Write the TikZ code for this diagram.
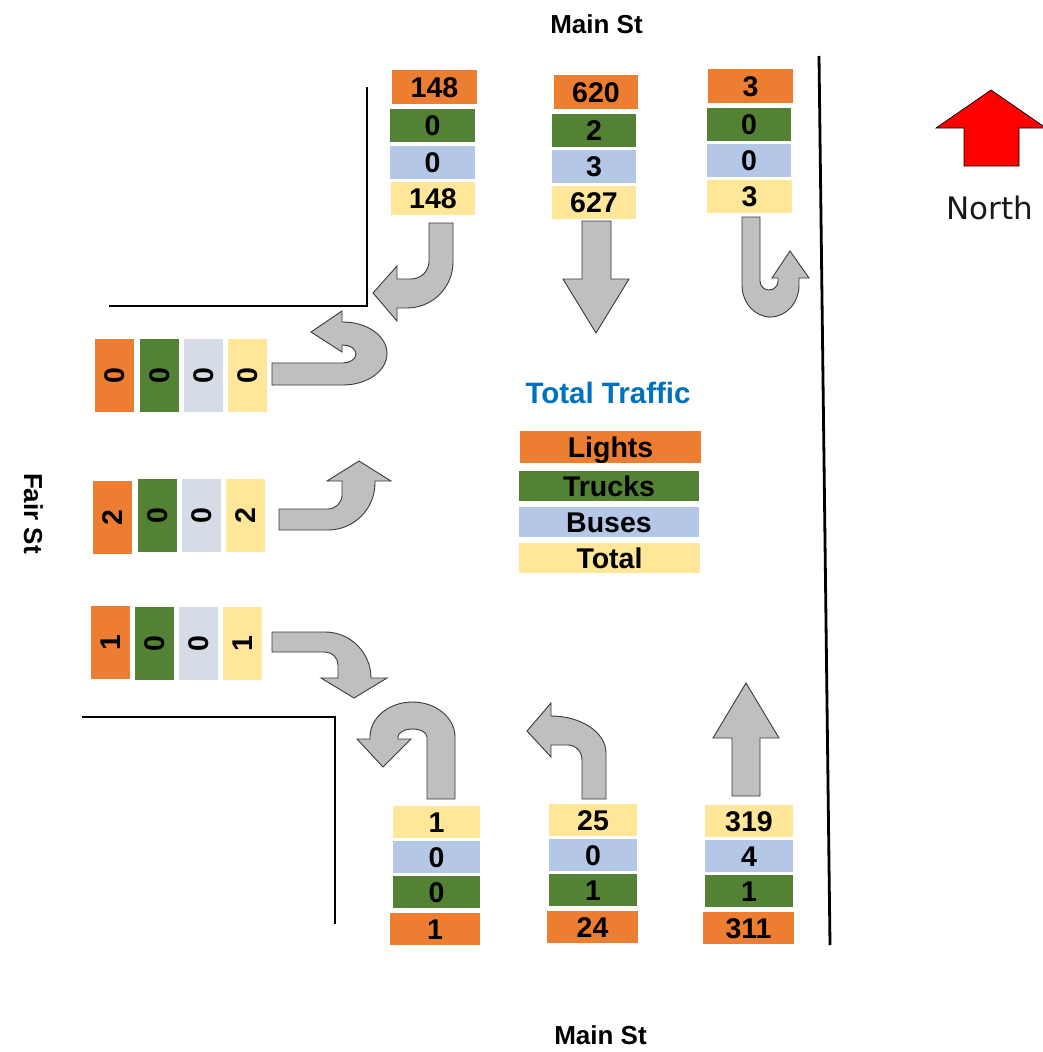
\documentclass[tikz,border=0pt]{standalone}
\usepackage{fontspec}
\setmainfont{Liberation Sans}
\newfontfamily\northfont{DejaVu Sans}
\definecolor{cO}{HTML}{ED7D31}
\definecolor{cG}{HTML}{548235}
\definecolor{cB}{HTML}{B4C7E7}
\definecolor{cBl}{HTML}{D6DCE5}
\definecolor{cY}{HTML}{FFE699}
\definecolor{agray}{HTML}{BFBFBF}
\definecolor{aline}{HTML}{3A3A3A}
\definecolor{ttblue}{HTML}{0070C0}
\newcommand\cellfont{\fontsize{28.5}{30}\selectfont\bfseries}
\newcommand\streetfont{\fontsize{26}{28}\selectfont\bfseries}
\tikzset{
  cell/.style={inner sep=0pt, outer sep=0pt, text height=20.4pt, text depth=0pt, font=\cellfont, text=black},
  turnarrow/.style={fill=agray, draw=aline, line width=0.9pt, line join=miter},
  road/.style={line width=2.8pt, draw=black},
  street/.style={font=\streetfont, inner sep=0pt, text height=19pt, text depth=0pt}
}
\newcommand\mycell[7]{\node[cell, fill=#6, minimum width={(#4)-(#2)}, minimum height={(#5)-(#3)}] (#1) at ({((#2)+(#4))/2},{((#3)+(#5))/2}) {#7};}
\newcommand\myrcell[7]{\node[cell, rotate=90, fill=#6, minimum width={(#5)-(#3)}, minimum height={(#4)-(#2)}] (#1) at ({((#2)+(#4))/2},{((#3)+(#5))/2}) {#7};}
\begin{document}
\begin{tikzpicture}[x=1pt,y=-1pt]
\useasboundingbox (0,0) rectangle (1043,1052);
\fill[white] (0,0) rectangle (1043,1052);

% roads
\draw[road] (367,87) -- (367,306) -- (109,306);
\draw[road] (335,924) -- (335,717) -- (82,717);
\draw[road] (819,56) -- (830,945);

% street names
\node[street] (mainN) at (596.5,23.5) {Main St};
\node[street] (mainS) at (600.5,1034.5) {Main St};
\node[street, rotate=-90] (fair) at (33.5,513.5) {Fair St};

% north arrow
\draw[fill=red, draw=black, line width=0.7pt] (964,166) -- (1019,166) -- (1019,128) -- (1046,128) -- (991,90) -- (936,128) -- (964,128) -- cycle;
\node[font=\northfont\fontsize{31}{33}\selectfont, text=black!90, inner sep=0pt, anchor=base] (north) at (989.5,219) {North};

% title
\node[font=\fontsize{29.5}{31}\selectfont\bfseries, text=ttblue, inner sep=0pt, anchor=base] (title) at (608,403) {Total Traffic};

% top-left column
\mycell{tlL}{392}{70}{477}{104}{cO}{148}
\mycell{tlT}{390}{109}{475}{142}{cG}{0}
\mycell{tlB}{390}{146}{475}{179}{cB}{0}
\mycell{tlS}{391}{182}{475}{215}{cY}{148}
% top-middle column
\mycell{tmL}{554}{75}{638}{109}{cO}{620}
\mycell{tmT}{552}{114}{636}{147}{cG}{2}
\mycell{tmB}{552}{150}{636}{183}{cB}{3}
\mycell{tmS}{552}{186}{636}{219}{cY}{627}
% top-right column
\mycell{trL}{708}{69}{793}{103}{cO}{3}
\mycell{trT}{707}{108}{791}{141}{cG}{0}
\mycell{trB}{707}{144}{791}{177}{cB}{0}
\mycell{trS}{707}{180}{792}{213}{cY}{3}

% left rows
\myrcell{laL}{95}{339}{134}{412}{cO}{0}
\myrcell{laT}{140}{339}{179}{412}{cG}{0}
\myrcell{laB}{184}{339}{223}{412}{cBl}{0}
\myrcell{laS}{228}{339}{267}{412}{cY}{0}
\myrcell{lbL}{93}{481}{132}{554}{cO}{2}
\myrcell{lbT}{138}{479}{177}{552}{cG}{0}
\myrcell{lbB}{182}{479}{221}{552}{cBl}{0}
\myrcell{lbS}{226}{479}{265}{552}{cY}{2}
\myrcell{lcL}{91}{606}{130}{679}{cO}{1}
\myrcell{lcT}{135}{607}{174}{680}{cG}{0}
\myrcell{lcB}{179}{607}{218}{680}{cBl}{0}
\myrcell{lcS}{223}{607}{262}{680}{cY}{1}

% bottom-left column
\mycell{blS}{393}{806}{480}{838}{cY}{1}
\mycell{blB}{393}{841}{480}{873}{cB}{0}
\mycell{blT}{393}{876}{480}{908}{cG}{0}
\mycell{blL}{390}{913}{480}{945}{cO}{1}
% bottom-middle column
\mycell{bmS}{549}{804}{637}{836}{cY}{25}
\mycell{bmB}{549}{839}{637}{871}{cB}{0}
\mycell{bmT}{549}{874}{637}{906}{cG}{1}
\mycell{bmL}{547}{911}{638}{943}{cO}{24}
% bottom-right column
\mycell{brS}{705}{805}{793}{837}{cY}{319}
\mycell{brB}{705}{840}{793}{872}{cB}{4}
\mycell{brT}{705}{875}{793}{907}{cG}{1}
\mycell{brL}{703}{912}{794}{944}{cO}{311}

% legend
\mycell{kL}{520}{431}{701}{463}{cO}{Lights}
\mycell{kT}{519}{471}{699}{501}{cG}{Trucks}
\mycell{kB}{519}{507}{699}{537}{cB}{Buses}
\mycell{kS}{519}{543}{700}{573}{cY}{Total}

% arrows
% top-left: southbound right turn
\draw[turnarrow] (429,223) -- (453,223) -- (453,262)
  .. controls (453,287.4) and (432.4,308) .. (407,308)
  -- (397,308) -- (397,321) -- (373,293) -- (397,266) -- (397,279) -- (411,279)
  .. controls (421,279) and (429,271) .. (429,261) -- cycle;
% top-middle: southbound through
\draw[turnarrow] (582,221) -- (611,221) -- (611,279) -- (629,279) -- (596,333) -- (563,279) -- (582,279) -- cycle;
% top-right: southbound U-turn
\draw[turnarrow] (742,217) -- (742,285)
  .. controls (742,302.7) and (754.8,317) .. (770.5,317)
  .. controls (786.2,317) and (799,302.7) .. (799,285)
  -- (799,278) -- (809,278) -- (790,251) -- (772,278) -- (778,278) -- (778,281)
  .. controls (778,286) and (774,290) .. (769,290)
  .. controls (764,290) and (760,286) .. (760,281)
  -- (760,217) -- cycle;
% left row 1: eastbound U-turn
\draw[turnarrow] (272,363) -- (343,363)
  .. controls (350.2,363) and (356,359) .. (356,354)
  .. controls (356,349) and (350.2,345) .. (343,345)
  -- (342,345) -- (342,352) -- (311,332) -- (342,311) -- (342,322) -- (343,322)
  .. controls (367.3,322) and (387,336.1) .. (387,353.5)
  .. controls (387,370.9) and (367.3,385) .. (343,385)
  -- (272,385) -- cycle;
% left row 2: eastbound left turn
\draw[turnarrow] (279,509) -- (328,509)
  .. controls (335.7,509) and (342,502.7) .. (342,495)
  -- (342,481) -- (327,481) -- (359,461) -- (391,481) -- (375,481) -- (375,483)
  .. controls (375,508.9) and (353.9,530) .. (328,530)
  -- (279,530) -- cycle;
% left row 3: eastbound right turn
\draw[turnarrow] (272,632) -- (325,632)
  .. controls (350.4,632) and (371,652.6) .. (371,678)
  -- (387,678) -- (354,698) -- (321,678) -- (338,678) -- (338,665)
  .. controls (338,657.8) and (332.2,652) .. (325,652)
  -- (272,652) -- cycle;
% bottom-left: northbound U-turn
\draw[turnarrow] (427,799) -- (455,799) -- (455,737)
  .. controls (455,717.7) and (436,702) .. (412.5,702)
  .. controls (389,702) and (370,717.7) .. (370,737)
  -- (370,739) -- (357,739) -- (383,767) -- (411,739) -- (398,739) -- (398,737)
  .. controls (398,732.6) and (404.5,729) .. (412.5,729)
  .. controls (420.5,729) and (427,732.6) .. (427,737)
  -- cycle;
% bottom-middle: northbound left turn
\draw[turnarrow] (582,799) -- (606,799) -- (606,753)
  .. controls (606,732.6) and (581.4,716) .. (551,716)
  -- (551,703) -- (527,731) -- (551,757) -- (551,745) -- (568,745)
  .. controls (575.7,745) and (582,751.7) .. (582,760)
  -- cycle;
% bottom-right: northbound through
\draw[turnarrow] (732,796) -- (760,796) -- (760,738) -- (779,738) -- (746,683) -- (713,738) -- (732,738) -- cycle;
\end{tikzpicture}
\end{document}
